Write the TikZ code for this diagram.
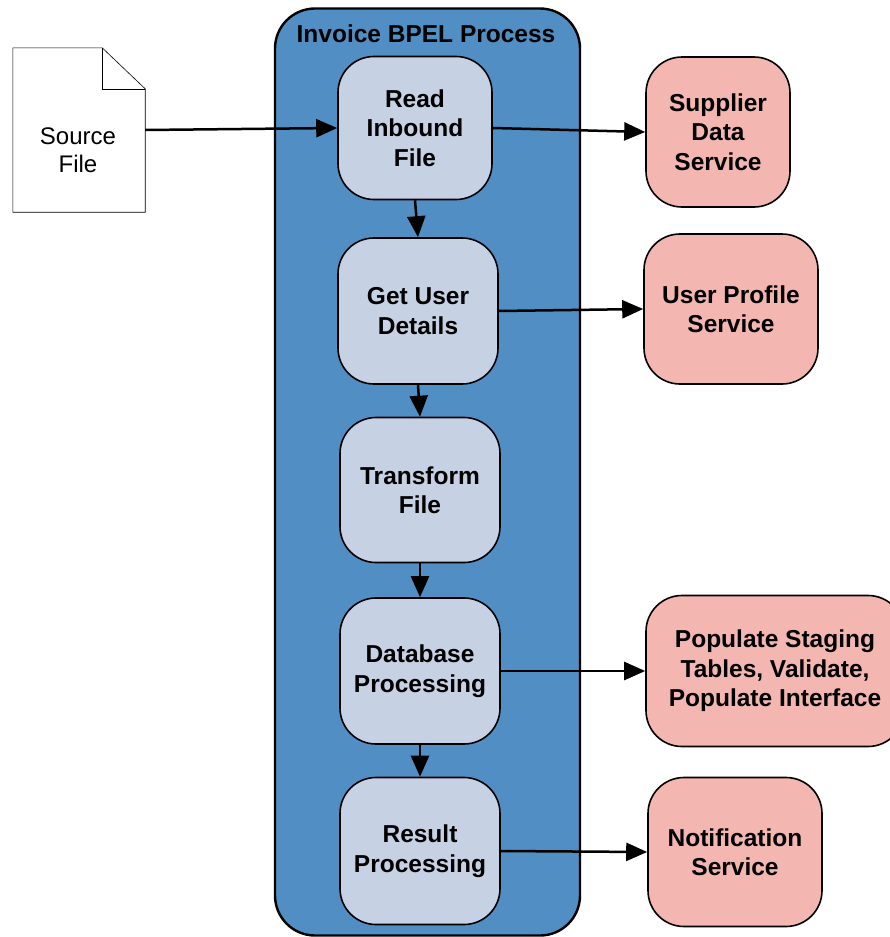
\documentclass[tikz,border=0pt]{standalone}
\usepackage{fontspec}
\setmainfont{Liberation Sans}
\usetikzlibrary{arrows.meta}
\definecolor{blueC}{RGB}{80,142,195}
\definecolor{lightC}{RGB}{198,210,228}
\definecolor{pinkC}{RGB}{244,182,176}
\tikzset{
  stepbox/.style={draw=black, line width=1.6pt, fill=lightC, rounded corners=36pt,
    minimum width=160pt, minimum height=146pt, align=center, inner sep=0pt,
    font=\fontsize{24.5}{29.5}\selectfont\bfseries},
  svcbox/.style={draw=black, line width=1.6pt, fill=pinkC, rounded corners=36pt,
    minimum height=150pt, align=center, inner sep=0pt,
    font=\fontsize{24.5}{29.5}\selectfont\bfseries},
  conn/.style={line width=2.5pt, -{Triangle[length=21pt,width=18pt]}}
}
\begin{document}
\begin{tikzpicture}[x=1pt,y=-1pt]
\useasboundingbox (0,0) rectangle (890,937);
% container
\node[draw=black, line width=2.4pt, fill=blueC, rounded corners=40pt,
  minimum width=305pt, minimum height=927pt, inner sep=0pt] (bpel) at (427.5,472) {};
\node[font=\fontsize{24.5}{28}\selectfont\bfseries, inner sep=0pt] (title) at (426,34) {Invoice BPEL Process};
% source file
\node[minimum width=132pt, minimum height=164pt, inner sep=0pt] (src) at (79,130) {};
\draw[line width=0.6pt, fill=white] (src.north west) -- ([xshift=-43pt]src.north east)
  -- ([yshift=-41pt]src.north east) -- (src.south east) -- (src.south west) -- cycle;
\draw[line width=0.6pt] ([xshift=-43pt]src.north east) |- ([yshift=-41pt]src.north east);
\node[align=center, font=\fontsize{24}{28}\selectfont] (srctext) at (78,150) {Source\\File};
% steps
\node[stepbox, minimum width=154pt, minimum height=143pt] (read) at (415,128) {Read\\Inbound\\File};
\node[stepbox] (user) at (418,311) {Get User\\Details};
\node[stepbox, minimum width=160pt, minimum height=145pt] (trans) at (420,490) {Transform\\File};
\node[stepbox] (db) at (420,671) {Database\\Processing};
\node[stepbox, minimum height=147pt] (res) at (420,851) {Result\\Processing};
% services
\node[svcbox, minimum width=144pt] (sup) at (718,132) {Supplier\\Data\\Service};
\node[svcbox, minimum width=174pt] (prof) at (731,309) {User Profile\\Service};
\node[svcbox, minimum width=258pt, minimum height=151pt] (pop) at (775,671) {Populate Staging\\Tables, Validate,\\Populate Interface};
\node[svcbox, minimum width=174pt, minimum height=149pt] (note) at (735,852) {Notification\\Service};
% connectors
\draw[conn] (src.east |- 0,130) -- (read.west);
\draw[conn] (read.east) -- (sup.west);
\draw[conn] (user.east) -- (prof.west);
\draw[conn] (db.east) -- (pop.west);
\draw[conn] (res.east) -- (note.west);
\draw[conn] (read.south) -- (user.north);
\draw[conn] (user.south) -- (trans.north);
\draw[conn] (trans.south) -- (db.north);
\draw[conn] (db.south) -- (res.north);
\end{tikzpicture}
\end{document}
